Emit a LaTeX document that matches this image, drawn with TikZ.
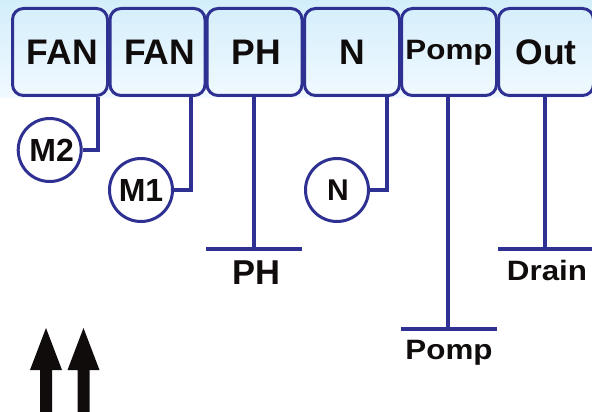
\documentclass[tikz,border=0pt]{standalone}
\usepackage{fontspec}
\setmainfont{Liberation Sans}
\definecolor{wire}{HTML}{2E3192}
\definecolor{ink}{HTML}{110C0C}
\definecolor{bandtop}{HTML}{D3EEFB}
\definecolor{bandbot}{HTML}{F1F9FF}
\tikzset{
  unit/.style={draw=wire,line width=3pt,rounded corners=11pt,minimum width=95pt,minimum height=87pt,inner sep=0pt,text=ink,font=\fontsize{35.5}{35.5}\bfseries\selectfont},
  motor/.style={circle,draw=wire,line width=3pt,fill=white,minimum size=63pt,inner sep=0pt,text=ink,font=\fontsize{32}{32}\bfseries\selectfont},
  wireline/.style={draw=wire,line width=3.2pt},
  barlabel/.style={text=ink,inner sep=0pt,font=\fontsize{34.5}{34.5}\bfseries\selectfont},
  smalllabel/.style={text=ink,inner sep=0pt,font=\fontsize{28}{28}\bfseries\selectfont},
  uparrow/.style={fill=ink,draw=none}
}
\begin{document}
\begin{tikzpicture}[x=1pt,y=-1pt]
\useasboundingbox (0,0) rectangle (592,412);
\clip (0,0) rectangle (592,412);
\shade[top color=bandtop,bottom color=bandbot] (0,0) rectangle (592,98);
\node[unit] (fanb) at (60,52) {\hspace{5pt}FAN};
\node[unit] (fana) at (157.5,52) {\hspace{4pt}FAN};
\node[unit] (ph) at (254.5,52) {\hspace{3pt}PH};
\node[unit] (n) at (352,52) {N};
\node[unit,font=\fontsize{28}{28}\bfseries\selectfont] (pomp) at (449,52) {\raisebox{0pt}[20pt][4pt]{\scalebox{1.12}[1]{Pomp}}};
\node[unit] (out) at (546,52) {Out};
\node[motor] (m2) at (49.7,150) {\hspace{4pt}M2};
\node[motor] (m1) at (141,190) {M1};
\node[motor,font=\fontsize{30}{30}\bfseries\selectfont] (nm) at (337,190) {\hspace{2pt}N};
\coordinate (jb) at (98,150);
\coordinate (ja) at (191,190);
\coordinate (jn) at (387,190);
\coordinate (jph) at (254,249);
\coordinate (jpomp) at (448,329);
\coordinate (jout) at (545,249);
\draw[wireline] (fanb.south -| jb) |- (m2.east);
\draw[wireline] (fana.south -| ja) |- (m1.east);
\draw[wireline] (n.south -| jn) |- (nm.east);
\draw[wireline] (ph.south -| jph) -- (jph);
\draw[wireline] (pomp.south -| jpomp) -- (jpomp);
\draw[wireline] (out.south -| jout) -- (jout);
\draw[wireline] (206,249) -- (302,249);
\draw[wireline] (401,329) -- (497,329);
\draw[wireline] (498,249) -- (592,249);
\node[barlabel] (phl) at (256,273) {PH};
\node[smalllabel] (drain) at (547,270) {\scalebox{1.12}[1]{Drain}};
\node[smalllabel] (pompl) at (449,353) {\scalebox{1.12}[1]{Pomp}};
\fill[uparrow] (46,328) -- (62,370) -- (52,370) -- (52,412) -- (40,412) -- (40,370) -- (30,370) -- cycle;
\fill[uparrow] (83.5,328) -- (99.5,370) -- (89.5,370) -- (89.5,412) -- (77.5,412) -- (77.5,370) -- (67.5,370) -- cycle;
\end{tikzpicture}
\end{document}
